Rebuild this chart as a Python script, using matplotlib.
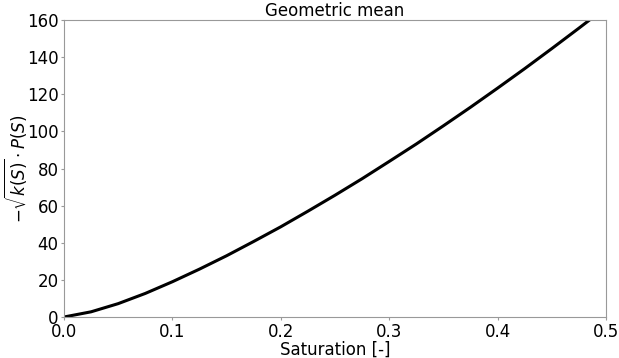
import matplotlib
matplotlib.use("Agg")
import matplotlib.pyplot as plt

saturation = [0.0, 0.025, 0.05, 0.075, 0.1, 0.125, 0.15, 0.175, 0.2, 0.225, 0.25,
              0.275, 0.3, 0.325, 0.35, 0.375, 0.4, 0.425, 0.45, 0.475, 0.5]
values = [0.0, 2.8, 7.2, 12.7, 19.0, 25.8, 33.0, 40.7, 48.6, 57.0, 65.6,
          74.5, 83.8, 93.2, 103.0, 113.0, 123.3, 133.8, 144.6, 155.6, 166.8]
xticks = [0.0, 0.1, 0.2, 0.3, 0.4, 0.5]
yticks = [0, 20, 40, 60, 80, 100, 120, 140, 160]

fig = plt.figure(figsize=(6.19, 3.58), dpi=100)
ax = fig.add_axes([64/619, 1-317/358, (606-64)/619, (317-20)/358])
ax.plot(saturation, values, color='black', linewidth=2.2, solid_capstyle='butt')
ax.set_xlim(0, 0.5)
ax.set_ylim(0, 160)
ax.set_xticks(xticks)
ax.set_xticklabels([f"{t:.1f}" for t in xticks])
ax.set_yticks(yticks)
ax.tick_params(labelsize=12, color='#999999', length=2.5, pad=1.5)
for s in ax.spines.values():
    s.set_color('#999999')
ax.set_xlabel('Saturation [-]', fontsize=12, labelpad=0)
ax.set_ylabel(r'$-\sqrt{k(S)}\cdot P(S)$', fontsize=12)
ax.yaxis.set_label_coords(-0.062, 0.5)
ax.set_title('Geometric mean', fontsize=12, pad=2)
fig.savefig('out.png', dpi=100)
